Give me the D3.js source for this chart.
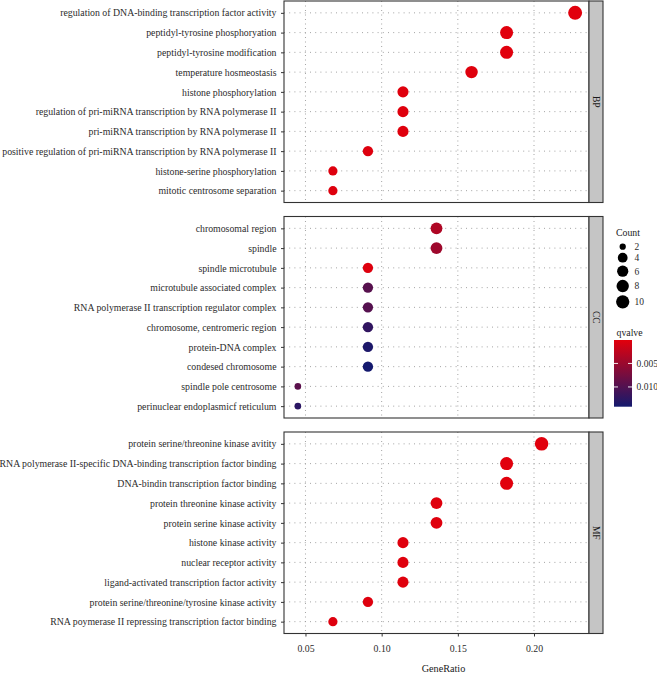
<!DOCTYPE html>
<html><head><meta charset="utf-8">
<script src="https://cdn.jsdelivr.net/npm/d3@7"></script>
<style>
body{margin:0;background:#fff;}
text{font-family:"Liberation Serif","DejaVu Serif",serif;}
</style></head>
<body><svg id="c" width="657" height="673"></svg>
<script>
// ---- data ----
const bpTerms = ["regulation of DNA-binding transcription factor activity","peptidyl-tyrosine phosphoryation","peptidyl-tyrosine modification","temperature hosmeostasis","histone phosphorylation","regulation of pri-miRNA transcription by RNA polymerase II","pri-miRNA transcription by RNA polymerase II","positive regulation of pri-miRNA transcription by RNA polymerase II","histone-serine phosphorylation","mitotic centrosome separation"];
const bpRatio = [0.227,0.182,0.182,0.159,0.114,0.114,0.114,0.091,0.068,0.068];
const bpCount = [10,8,8,7,5,5,5,4,3,3];
const bpQ = [0.0001,0.0001,0.0001,0.0002,0.0002,0.0002,0.0002,0.0003,0.0003,0.0003];

const ccTerms = ["chromosomal region","spindle","spindle microtubule","microtubule associated complex","RNA polymerase II transcription regulator complex","chromosome, centromeric region","protein-DNA complex","condesed chromosome","spindle pole centrosome","perinuclear endoplasmicf reticulum"];
const ccRatio = [0.136,0.136,0.091,0.091,0.091,0.091,0.091,0.091,0.045,0.045];
const ccCount = [6,6,4,4,4,4,4,4,2,2];
const ccQ = [0.0035,0.0047,0.0003,0.0096,0.0097,0.0122,0.0136,0.0142,0.0093,0.0126];

const mfTerms = ["protein serine/threonine kinase avitity","RNA polymerase II-specific DNA-binding transcription factor binding","DNA-bindin transcription factor binding","protein threonine kinase activity","protein serine kinase activity","histone kinase activity","nuclear receptor activity","ligand-activated transcription factor activity","protein serine/threonine/tyrosine kinase activity","RNA poymerase II repressing transcription factor binding"];
const mfRatio = [0.205,0.182,0.182,0.136,0.136,0.114,0.114,0.114,0.091,0.068];
const mfCount = [9,8,8,6,6,5,5,5,4,3];
const mfQ = [0.0001,0.0001,0.0001,0.0002,0.0002,0.0002,0.0002,0.0002,0.0003,0.0003];

const panelNames = ["BP","CC","MF"];
const xTicks = [0.05,0.10,0.15,0.20];
const sizeBreaks = [2,4,6,8,10];
const qBreaks = [0.005,0.010];
const qLimits = [0.00002,0.0142];
const countLimits = [2,10];

// ---- layout ----
const svg = d3.select("#c");
const left = 284, right = 589, stripW = 14;
const panelH = 201.5, gap = 14, top0 = 1;
const panels = [
  {name:panelNames[0], terms:bpTerms, ratio:bpRatio, count:bpCount, q:bpQ},
  {name:panelNames[1], terms:ccTerms, ratio:ccRatio, count:ccCount, q:ccQ},
  {name:panelNames[2], terms:mfTerms, ratio:mfRatio, count:mfCount, q:mfQ}
];
const allRatio = bpRatio.concat(ccRatio, mfRatio);
const rMin = d3.min(allRatio), rMax = d3.max(allRatio);
const ex = (rMax - rMin) * 0.05;
const x = d3.scaleLinear().domain([rMin - ex, rMax + ex]).range([left, right]);

const colLow = "#e2000c", colHigh = "#14196e";
const colorT = d3.scaleLinear().domain(qLimits).range([0,1]).clamp(true);
const interp = d3.interpolateRgb(colLow, colHigh);
const color = q => interp(colorT(q));

const sizeT = d3.scaleLinear().domain(countLimits).range([0,1]);
const rad = d3.scaleLinear().domain([0,1]).range([3.3,7]);
const radius = c => rad(Math.sqrt(sizeT(c)));

const txt = "#2b2b2b";
const fs = 9.8;

panels.forEach((p, i) => {
  const T = top0 + i * (panelH + gap);
  const y = d3.scalePoint().domain(p.terms).range([T, T + panelH]).padding(0.6);
  const g = svg.append("g");
  g.append("rect").attr("x", left).attr("y", T).attr("width", right - left).attr("height", panelH).attr("fill", "#fff");
  // grid
  g.selectAll("line.gx").data(xTicks).join("line")
    .attr("x1", d => x(d)).attr("x2", d => x(d)).attr("y1", T).attr("y2", T + panelH)
    .attr("stroke", "#9a9a9a").attr("stroke-width", 0.9).attr("stroke-dasharray", "1,3.5");
  g.selectAll("line.gy").data(p.terms).join("line")
    .attr("x1", left).attr("x2", right).attr("y1", d => y(d)).attr("y2", d => y(d))
    .attr("stroke", "#9a9a9a").attr("stroke-width", 0.9).attr("stroke-dasharray", "1,4.2");
  // points
  g.selectAll("circle").data(p.terms.map((t, k) => ({t, r: p.ratio[k], c: p.count[k], q: p.q[k]})))
    .join("circle")
    .attr("cx", d => x(d.r)).attr("cy", d => y(d.t)).attr("r", d => radius(d.c))
    .attr("fill", d => color(d.q));
  // border
  g.append("rect").attr("x", left).attr("y", T).attr("width", right - left).attr("height", panelH)
    .attr("fill", "none").attr("stroke", "#333").attr("stroke-width", 1.1);
  // strip
  g.append("rect").attr("x", right).attr("y", T).attr("width", stripW).attr("height", panelH)
    .attr("fill", "#c5c5c5").attr("stroke", "#333").attr("stroke-width", 1.1);
  g.append("text").attr("transform", `translate(${right + stripW/2},${T + panelH/2}) rotate(90)`)
    .attr("text-anchor", "middle").attr("dy", "0.35em").attr("font-size", 9.5).attr("fill", "#1a1a1a").text(p.name);
  // y axis
  const ay = g.append("g").attr("transform", `translate(${left},0)`)
    .call(d3.axisLeft(y).tickSize(3).tickPadding(4.5));
  ay.select(".domain").remove();
  ay.selectAll("line").attr("stroke", "#333");
  ay.selectAll("text").attr("font-size", fs).attr("fill", txt).style("font-family", '"Liberation Serif",serif');
  if (i === 2) {
    const ax = g.append("g").attr("transform", `translate(0,${T + panelH})`)
      .call(d3.axisBottom(x).tickValues(xTicks).tickFormat(d3.format(".2f")).tickSize(3).tickPadding(9));
    ax.select(".domain").remove();
    ax.selectAll("line").attr("stroke", "#333");
    ax.selectAll("text").attr("font-size", fs).attr("fill", txt).style("font-family", '"Liberation Serif",serif');
    svg.append("text").attr("x", (left + right + stripW) / 2).attr("y", 672)
      .attr("text-anchor", "middle").attr("font-size", 10.2).attr("fill", "#1a1a1a").text("GeneRatio");
  }
});

// ---- legend: Count ----
const lg = svg.append("g");
lg.append("text").attr("x", 616).attr("y", 235.5).attr("font-size", 9.8).attr("fill", "#1a1a1a").text("Count");
let yy = 246.7;
sizeBreaks.forEach((c, k) => {
  if (k > 0) yy += radius(sizeBreaks[k-1]) * 0.95 + radius(c) * 0.95 + 3;
  lg.append("circle").attr("cx", 622.7).attr("cy", yy).attr("r", radius(c) * 0.95).attr("fill", "#000");
  lg.append("text").attr("x", 634.5).attr("y", yy).attr("dy", "0.35em").attr("font-size", 9.5).attr("fill", txt).text(c);
});

// ---- legend: qvalue ----
lg.append("text").attr("x", 616.5).attr("y", 335.5).attr("font-size", 9.8).attr("fill", "#1a1a1a").text("qvalve");
const barTop = 340, barBot = 406.7, barX = 614, barW = 18;
const qy = d3.scaleLinear().domain(qLimits).range([barTop, barBot]);
const grad = svg.append("defs").append("linearGradient").attr("id", "qg")
  .attr("x1", 0).attr("x2", 0).attr("y1", 0).attr("y2", 1);
d3.range(0, 1.0001, 0.05).forEach(t => grad.append("stop").attr("offset", t).attr("stop-color", interp(t)));
lg.append("rect").attr("x", barX).attr("y", barTop).attr("width", barW).attr("height", barBot - barTop).attr("fill", "url(#qg)");
qBreaks.forEach(q => {
  lg.append("line").attr("x1", barX).attr("x2", barX + 4).attr("y1", qy(q)).attr("y2", qy(q)).attr("stroke", "#fff").attr("stroke-width", 0.9);
  lg.append("line").attr("x1", barX + barW - 4).attr("x2", barX + barW).attr("y1", qy(q)).attr("y2", qy(q)).attr("stroke", "#fff").attr("stroke-width", 0.9);
  lg.append("text").attr("x", 636.5).attr("y", qy(q)).attr("dy", "0.35em").attr("font-size", 9.5).attr("fill", txt).text(d3.format(".3f")(q));
});
</script></body></html>
